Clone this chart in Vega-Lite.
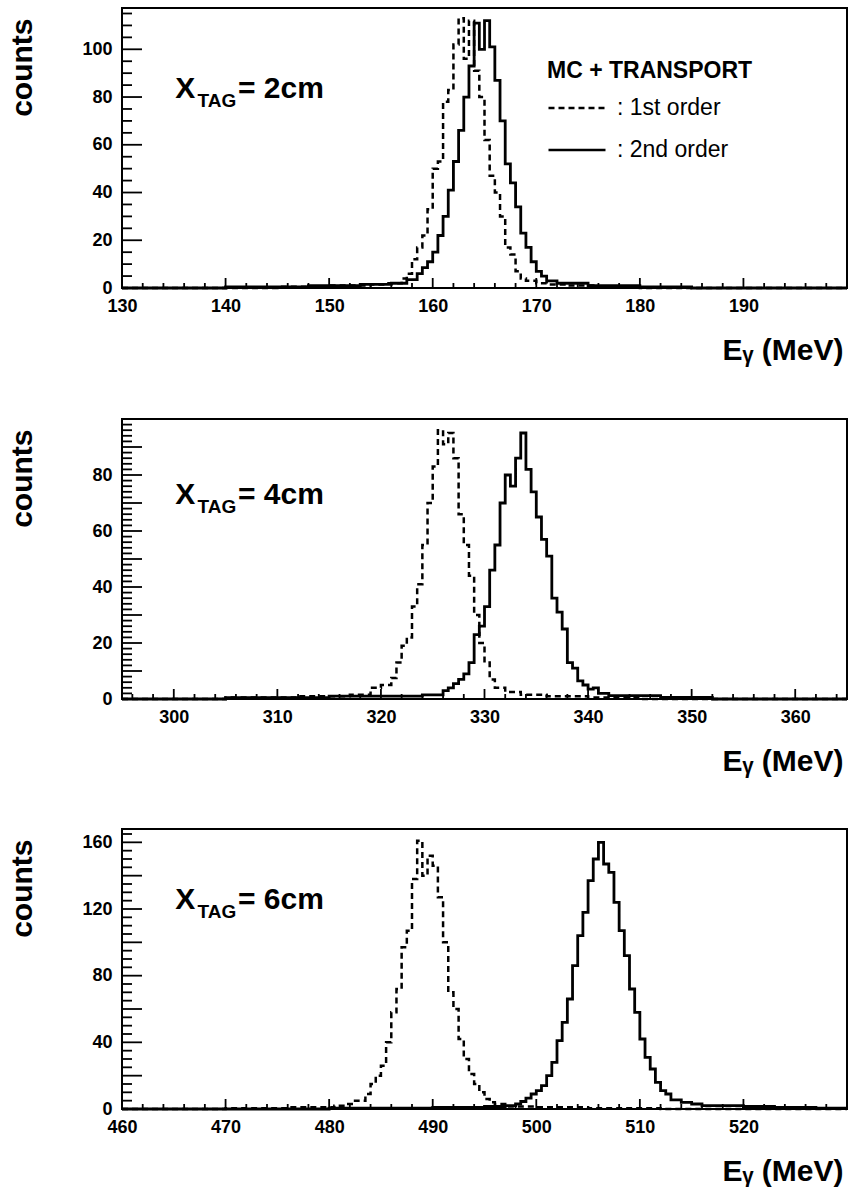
{
  "$schema": "https://vega.github.io/schema/vega-lite/v6.json",
  "background": "white",
  "padding": {"left": 5, "top": 7, "right": 3, "bottom": 0},
  "spacing": 51,
  "config": {
    "font": "Liberation Sans",
    "view": {"stroke": "black", "strokeWidth": 2},
    "axis": {
      "domain": false, "ticks": false, "tickSize": 0, "labelColor": "black", "titleColor": "black",
      "labelFont": "Liberation Sans", "labelFontWeight": "bold", "labelFontSize": 18,
      "titleFont": "Liberation Sans", "titleFontWeight": "bold", "titleFontSize": 30,
      "grid": false, "labelFlush": false, "labelOverlap": false
    },
    "tick": {"color": "black", "thickness": 1.8, "opacity": 1}
  },
  "datasets": {
    "p1": [
      {"E":130,"n":0,"o":"1st order"},{"E":145,"n":0.5,"o":"1st order"},{"E":150,"n":1,"o":"1st order"},{"E":154,"n":1.5,"o":"1st order"},{"E":155.5,"n":2,"o":"1st order"},{"E":157,"n":4,"o":"1st order"},{"E":157.5,"n":6,"o":"1st order"},{"E":158,"n":12,"o":"1st order"},{"E":158.5,"n":17,"o":"1st order"},{"E":159,"n":22,"o":"1st order"},{"E":159.5,"n":33,"o":"1st order"},{"E":160,"n":50,"o":"1st order"},{"E":160.5,"n":53,"o":"1st order"},{"E":161,"n":78,"o":"1st order"},{"E":161.5,"n":83,"o":"1st order"},{"E":162,"n":102,"o":"1st order"},{"E":162.5,"n":113,"o":"1st order"},{"E":163,"n":96,"o":"1st order"},{"E":163.5,"n":112,"o":"1st order"},{"E":164,"n":91,"o":"1st order"},{"E":164.5,"n":80,"o":"1st order"},{"E":165,"n":62,"o":"1st order"},{"E":165.5,"n":47,"o":"1st order"},{"E":166,"n":40,"o":"1st order"},{"E":166.5,"n":30,"o":"1st order"},{"E":167,"n":17,"o":"1st order"},{"E":167.5,"n":14,"o":"1st order"},{"E":168,"n":7,"o":"1st order"},{"E":168.5,"n":4,"o":"1st order"},{"E":169,"n":3,"o":"1st order"},{"E":170,"n":2,"o":"1st order"},{"E":171,"n":1.5,"o":"1st order"},{"E":173,"n":1,"o":"1st order"},{"E":176,"n":0.5,"o":"1st order"},{"E":180,"n":0,"o":"1st order"},{"E":200,"n":0,"o":"1st order"},
      {"E":130,"n":0,"o":"2nd order"},{"E":140,"n":0.5,"o":"2nd order"},{"E":148,"n":1,"o":"2nd order"},{"E":153,"n":1.5,"o":"2nd order"},{"E":156,"n":2,"o":"2nd order"},{"E":157.5,"n":3.5,"o":"2nd order"},{"E":158.5,"n":6,"o":"2nd order"},{"E":159,"n":8.5,"o":"2nd order"},{"E":159.5,"n":11,"o":"2nd order"},{"E":160,"n":15,"o":"2nd order"},{"E":160.5,"n":22,"o":"2nd order"},{"E":161,"n":30,"o":"2nd order"},{"E":161.5,"n":41,"o":"2nd order"},{"E":162,"n":53,"o":"2nd order"},{"E":162.5,"n":66,"o":"2nd order"},{"E":163,"n":80,"o":"2nd order"},{"E":163.5,"n":93,"o":"2nd order"},{"E":164,"n":111,"o":"2nd order"},{"E":164.5,"n":100,"o":"2nd order"},{"E":165,"n":112,"o":"2nd order"},{"E":165.5,"n":101,"o":"2nd order"},{"E":166,"n":87,"o":"2nd order"},{"E":166.5,"n":70,"o":"2nd order"},{"E":167,"n":52,"o":"2nd order"},{"E":167.5,"n":44,"o":"2nd order"},{"E":168,"n":34,"o":"2nd order"},{"E":168.5,"n":23,"o":"2nd order"},{"E":169,"n":17,"o":"2nd order"},{"E":169.5,"n":11,"o":"2nd order"},{"E":170,"n":7,"o":"2nd order"},{"E":170.5,"n":5,"o":"2nd order"},{"E":171,"n":3,"o":"2nd order"},{"E":172,"n":2,"o":"2nd order"},{"E":175,"n":1,"o":"2nd order"},{"E":180,"n":0.5,"o":"2nd order"},{"E":185,"n":0,"o":"2nd order"},{"E":200,"n":0,"o":"2nd order"}
    ],
    "p2": [
      {"E":295,"n":0,"o":"1st order"},{"E":305,"n":0.5,"o":"1st order"},{"E":312,"n":1,"o":"1st order"},{"E":317,"n":1.5,"o":"1st order"},{"E":319,"n":4,"o":"1st order"},{"E":320,"n":5,"o":"1st order"},{"E":321,"n":7.5,"o":"1st order"},{"E":321.5,"n":13,"o":"1st order"},{"E":322,"n":19,"o":"1st order"},{"E":322.5,"n":22,"o":"1st order"},{"E":323,"n":33,"o":"1st order"},{"E":323.5,"n":41,"o":"1st order"},{"E":324,"n":55,"o":"1st order"},{"E":324.5,"n":70,"o":"1st order"},{"E":325,"n":83,"o":"1st order"},{"E":325.5,"n":96,"o":"1st order"},{"E":326,"n":91,"o":"1st order"},{"E":326.5,"n":95,"o":"1st order"},{"E":327,"n":86,"o":"1st order"},{"E":327.5,"n":66,"o":"1st order"},{"E":328,"n":55,"o":"1st order"},{"E":328.5,"n":44,"o":"1st order"},{"E":329,"n":30,"o":"1st order"},{"E":329.5,"n":20,"o":"1st order"},{"E":330,"n":13,"o":"1st order"},{"E":330.5,"n":7,"o":"1st order"},{"E":331,"n":4,"o":"1st order"},{"E":332,"n":2.5,"o":"1st order"},{"E":333.5,"n":1.5,"o":"1st order"},{"E":336,"n":1,"o":"1st order"},{"E":340,"n":0.5,"o":"1st order"},{"E":345,"n":0,"o":"1st order"},{"E":365,"n":0,"o":"1st order"},
      {"E":295,"n":0,"o":"2nd order"},{"E":305,"n":0.5,"o":"2nd order"},{"E":315,"n":1,"o":"2nd order"},{"E":324,"n":1.5,"o":"2nd order"},{"E":326,"n":3,"o":"2nd order"},{"E":326.5,"n":4,"o":"2nd order"},{"E":327,"n":5.5,"o":"2nd order"},{"E":327.5,"n":7,"o":"2nd order"},{"E":328,"n":9,"o":"2nd order"},{"E":328.5,"n":13,"o":"2nd order"},{"E":329,"n":23,"o":"2nd order"},{"E":329.5,"n":26,"o":"2nd order"},{"E":330,"n":33,"o":"2nd order"},{"E":330.5,"n":46,"o":"2nd order"},{"E":331,"n":55,"o":"2nd order"},{"E":331.5,"n":70,"o":"2nd order"},{"E":332,"n":80,"o":"2nd order"},{"E":332.5,"n":76,"o":"2nd order"},{"E":333,"n":86,"o":"2nd order"},{"E":333.5,"n":95,"o":"2nd order"},{"E":334,"n":82,"o":"2nd order"},{"E":334.5,"n":74,"o":"2nd order"},{"E":335,"n":65,"o":"2nd order"},{"E":335.5,"n":57,"o":"2nd order"},{"E":336,"n":51,"o":"2nd order"},{"E":336.5,"n":36,"o":"2nd order"},{"E":337,"n":31,"o":"2nd order"},{"E":337.5,"n":25,"o":"2nd order"},{"E":338,"n":13,"o":"2nd order"},{"E":338.5,"n":11,"o":"2nd order"},{"E":339,"n":6.5,"o":"2nd order"},{"E":339.5,"n":5,"o":"2nd order"},{"E":340,"n":3.5,"o":"2nd order"},{"E":340.5,"n":4,"o":"2nd order"},{"E":341,"n":2,"o":"2nd order"},{"E":342,"n":1.2,"o":"2nd order"},{"E":347,"n":0.6,"o":"2nd order"},{"E":352,"n":0,"o":"2nd order"},{"E":365,"n":0,"o":"2nd order"}
    ],
    "p3": [
      {"E":460,"n":0,"o":"1st order"},{"E":470,"n":0.5,"o":"1st order"},{"E":476,"n":1,"o":"1st order"},{"E":480.5,"n":2,"o":"1st order"},{"E":481.5,"n":3,"o":"1st order"},{"E":482.5,"n":5,"o":"1st order"},{"E":483.5,"n":9,"o":"1st order"},{"E":484,"n":15,"o":"1st order"},{"E":484.5,"n":20,"o":"1st order"},{"E":485,"n":26,"o":"1st order"},{"E":485.5,"n":40,"o":"1st order"},{"E":486,"n":58,"o":"1st order"},{"E":486.5,"n":72,"o":"1st order"},{"E":487,"n":97,"o":"1st order"},{"E":487.5,"n":107,"o":"1st order"},{"E":488,"n":138,"o":"1st order"},{"E":488.5,"n":161,"o":"1st order"},{"E":489,"n":140,"o":"1st order"},{"E":489.5,"n":152,"o":"1st order"},{"E":490,"n":146,"o":"1st order"},{"E":490.5,"n":127,"o":"1st order"},{"E":491,"n":100,"o":"1st order"},{"E":491.5,"n":70,"o":"1st order"},{"E":492,"n":60,"o":"1st order"},{"E":492.5,"n":42,"o":"1st order"},{"E":493,"n":30,"o":"1st order"},{"E":493.5,"n":21,"o":"1st order"},{"E":494,"n":15,"o":"1st order"},{"E":494.5,"n":10,"o":"1st order"},{"E":495,"n":6,"o":"1st order"},{"E":495.5,"n":4,"o":"1st order"},{"E":496,"n":3,"o":"1st order"},{"E":497,"n":1.5,"o":"1st order"},{"E":500,"n":1,"o":"1st order"},{"E":505,"n":0.5,"o":"1st order"},{"E":512,"n":0,"o":"1st order"},{"E":530,"n":0,"o":"1st order"},
      {"E":460,"n":0,"o":"2nd order"},{"E":480,"n":0.5,"o":"2nd order"},{"E":490,"n":1,"o":"2nd order"},{"E":495,"n":1.5,"o":"2nd order"},{"E":497,"n":2,"o":"2nd order"},{"E":498,"n":3,"o":"2nd order"},{"E":498.5,"n":4.5,"o":"2nd order"},{"E":499,"n":6.5,"o":"2nd order"},{"E":499.5,"n":9,"o":"2nd order"},{"E":500,"n":11,"o":"2nd order"},{"E":500.5,"n":14,"o":"2nd order"},{"E":501,"n":20,"o":"2nd order"},{"E":501.5,"n":28,"o":"2nd order"},{"E":502,"n":41,"o":"2nd order"},{"E":502.5,"n":52,"o":"2nd order"},{"E":503,"n":66,"o":"2nd order"},{"E":503.5,"n":86,"o":"2nd order"},{"E":504,"n":104,"o":"2nd order"},{"E":504.5,"n":118,"o":"2nd order"},{"E":505,"n":137,"o":"2nd order"},{"E":505.5,"n":150,"o":"2nd order"},{"E":506,"n":160,"o":"2nd order"},{"E":506.5,"n":147,"o":"2nd order"},{"E":507,"n":142,"o":"2nd order"},{"E":507.5,"n":124,"o":"2nd order"},{"E":508,"n":107,"o":"2nd order"},{"E":508.5,"n":92,"o":"2nd order"},{"E":509,"n":72,"o":"2nd order"},{"E":509.5,"n":58,"o":"2nd order"},{"E":510,"n":42,"o":"2nd order"},{"E":510.5,"n":31,"o":"2nd order"},{"E":511,"n":24,"o":"2nd order"},{"E":511.5,"n":16,"o":"2nd order"},{"E":512,"n":11,"o":"2nd order"},{"E":512.5,"n":9,"o":"2nd order"},{"E":513,"n":5.5,"o":"2nd order"},{"E":514,"n":4,"o":"2nd order"},{"E":515,"n":3,"o":"2nd order"},{"E":516,"n":2,"o":"2nd order"},{"E":520,"n":1.5,"o":"2nd order"},{"E":523,"n":1,"o":"2nd order"},{"E":527,"n":0.5,"o":"2nd order"},{"E":530,"n":0.5,"o":"2nd order"}
    ]
  },
  "resolve": {"scale": {"strokeDash": "independent"}, "legend": {"strokeDash": "independent"}},
  "vconcat": [
    {
      "width": 725, "height": 280,
      "layer": [
        {
          "data": {"name": "p1"},
          "transform": [{"filter": "datum.o == '1st order'"}],
          "mark": {"type": "line", "interpolate": "step-after", "strokeWidth": 2.5, "color": "black"},
          "encoding": {
            "x": {"field": "E", "type": "quantitative", "scale": {"domain": [130, 200], "nice": false, "zero": false},
              "axis": {"orient": "bottom", "values": [130,140,150,160,170,180,190], "labelPadding": 9, "labelOverlap": false, "labelFlush": false,
                "title": "Eᵧ (MeV)", "titleX": 721, "titleY": 71, "titleAlign": "right", "titleBaseline": "alphabetic"}},
            "y": {"field": "n", "type": "quantitative", "scale": {"domain": [0, 117.3], "nice": false},
              "axis": {"orient": "left", "values": [0,20,40,60,80,100], "labelPadding": 10, "labelOverlap": false, "labelFlush": false,
                "title": "counts", "titleX": -91, "titleY": 10, "titleAngle": -90, "titleAlign": "right", "titleBaseline": "alphabetic"}},
            "strokeDash": {"field": "o", "type": "nominal", "scale": {"domain": ["1st order", "2nd order"], "range": [[6, 4], [1, 0]]},
              "legend": {"title": "MC + TRANSPORT", "orient": "none", "legendX": 425, "legendY": 52, "titleLimit": 500, "labelLimit": 400,
                "titleFont": "Liberation Sans", "titleFontSize": 23, "titleFontWeight": "bold", "titleColor": "black", "titlePadding": -5,
                "labelFont": "Liberation Sans", "labelFontSize": 23, "labelFontWeight": "normal", "labelColor": "black",
                "labelExpr": "': ' + datum.label", "symbolType": "stroke", "symbolSize": 3249, "symbolStrokeWidth": 2.5,
                "symbolStrokeColor": "black", "labelOffset": 10, "rowPadding": -2}}
          }
        },
        {
          "data": {"name": "p1"},
          "transform": [{"filter": "datum.o == '2nd order'"}],
          "mark": {"type": "line", "interpolate": "step-after", "strokeWidth": 2.8, "color": "black"},
          "encoding": {
            "x": {"field": "E", "type": "quantitative"},
            "y": {"field": "n", "type": "quantitative"},
            "strokeDash": {"field": "o", "type": "nominal"}
          }
        },
        {
          "data": {"values": [{"t":130},{"t":140},{"t":150},{"t":160},{"t":170},{"t":180},{"t":190}]},
          "mark": {"type": "tick", "orient": "vertical", "size": 10, "yOffset": -5},
          "encoding": {"x": {"field": "t", "type": "quantitative"}, "y": {"datum": 0, "type": "quantitative"}}
        },
        {
          "data": {"values": [{"t":132},{"t":134},{"t":136},{"t":138},{"t":142},{"t":144},{"t":146},{"t":148},{"t":152},{"t":154},{"t":156},{"t":158},{"t":162},{"t":164},{"t":166},{"t":168},{"t":172},{"t":174},{"t":176},{"t":178},{"t":182},{"t":184},{"t":186},{"t":188},{"t":192},{"t":194},{"t":196},{"t":198}]},
          "mark": {"type": "tick", "orient": "vertical", "size": 5, "yOffset": -2.5},
          "encoding": {"x": {"field": "t", "type": "quantitative"}, "y": {"datum": 0, "type": "quantitative"}}
        },
        {
          "data": {"values": [{"t":0},{"t":20},{"t":40},{"t":60},{"t":80},{"t":100}]},
          "mark": {"type": "tick", "orient": "horizontal", "size": 20, "xOffset": 10},
          "encoding": {"y": {"field": "t", "type": "quantitative"}, "x": {"datum": 130, "type": "quantitative"}}
        },
        {
          "data": {"values": [{"t":5},{"t":10},{"t":15},{"t":25},{"t":30},{"t":35},{"t":45},{"t":50},{"t":55},{"t":65},{"t":70},{"t":75},{"t":85},{"t":90},{"t":95},{"t":105},{"t":110},{"t":115}]},
          "mark": {"type": "tick", "orient": "horizontal", "size": 10, "xOffset": 5},
          "encoding": {"y": {"field": "t", "type": "quantitative"}, "x": {"datum": 130, "type": "quantitative"}}
        },
        {
          "data": {"values": [{}]},
          "mark": {"type": "text", "text": "X", "fontSize": 30, "fontWeight": "bold", "align": "left", "baseline": "alphabetic", "color": "black"},
          "encoding": {"x": {"datum": 135.15, "type": "quantitative"}, "y": {"datum": 79.6, "type": "quantitative"}}
        },
        {
          "data": {"values": [{}]},
          "mark": {"type": "text", "text": "TAG", "fontSize": 19, "fontWeight": "bold", "align": "left", "baseline": "alphabetic", "color": "black"},
          "encoding": {"x": {"datum": 137.3, "type": "quantitative"}, "y": {"datum": 75.8, "type": "quantitative"}}
        },
        {
          "data": {"values": [{}]},
          "mark": {"type": "text", "text": "= 2cm", "fontSize": 30, "fontWeight": "bold", "align": "left", "baseline": "alphabetic", "color": "black"},
          "encoding": {"x": {"datum": 141.2, "type": "quantitative"}, "y": {"datum": 79.6, "type": "quantitative"}}
        }
      ]
    },
    {
      "width": 725, "height": 280,
      "layer": [
        {
          "data": {"name": "p2"},
          "transform": [{"filter": "datum.o == '1st order'"}],
          "mark": {"type": "line", "interpolate": "step-after", "strokeWidth": 2.5, "color": "black", "strokeDash": [6, 4]},
          "encoding": {
            "x": {"field": "E", "type": "quantitative", "scale": {"domain": [295, 365], "nice": false, "zero": false},
              "axis": {"orient": "bottom", "values": [300,310,320,330,340,350,360], "labelPadding": 9, "labelOverlap": false, "labelFlush": false,
                "title": "Eᵧ (MeV)", "titleX": 721, "titleY": 71, "titleAlign": "right", "titleBaseline": "alphabetic"}},
            "y": {"field": "n", "type": "quantitative", "scale": {"domain": [0, 100], "nice": false},
              "axis": {"orient": "left", "values": [0,10,20,30,40,50,60,70,80,90], "labelPadding": 10, "labelOverlap": false, "labelFlush": false,
                "title": "counts", "titleX": -91, "titleY": 10, "titleAngle": -90, "titleAlign": "right", "titleBaseline": "alphabetic"}}
          }
        },
        {
          "data": {"name": "p2"},
          "transform": [{"filter": "datum.o == '2nd order'"}],
          "mark": {"type": "line", "interpolate": "step-after", "strokeWidth": 2.8, "color": "black"},
          "encoding": {
            "x": {"field": "E", "type": "quantitative"},
            "y": {"field": "n", "type": "quantitative"}
          }
        },
        {
          "data": {"values": [{"t":300},{"t":310},{"t":320},{"t":330},{"t":340},{"t":350},{"t":360}]},
          "mark": {"type": "tick", "orient": "vertical", "size": 10, "yOffset": -5},
          "encoding": {"x": {"field": "t", "type": "quantitative"}, "y": {"datum": 0, "type": "quantitative"}}
        },
        {
          "data": {"values": [{"t":296},{"t":298},{"t":302},{"t":304},{"t":306},{"t":308},{"t":312},{"t":314},{"t":316},{"t":318},{"t":322},{"t":324},{"t":326},{"t":328},{"t":332},{"t":334},{"t":336},{"t":338},{"t":342},{"t":344},{"t":346},{"t":348},{"t":352},{"t":354},{"t":356},{"t":358},{"t":362},{"t":364}]},
          "mark": {"type": "tick", "orient": "vertical", "size": 5, "yOffset": -2.5},
          "encoding": {"x": {"field": "t", "type": "quantitative"}, "y": {"datum": 0, "type": "quantitative"}}
        },
        {
          "data": {"values": [{"t":0},{"t":10},{"t":20},{"t":30},{"t":40},{"t":50},{"t":60},{"t":70},{"t":80},{"t":90},{"t":100}]},
          "mark": {"type": "tick", "orient": "horizontal", "size": 20, "xOffset": 10},
          "encoding": {"y": {"field": "t", "type": "quantitative"}, "x": {"datum": 295, "type": "quantitative"}}
        },
        {
          "data": {"values": [{"t":2},{"t":4},{"t":6},{"t":8},{"t":12},{"t":14},{"t":16},{"t":18},{"t":22},{"t":24},{"t":26},{"t":28},{"t":32},{"t":34},{"t":36},{"t":38},{"t":42},{"t":44},{"t":46},{"t":48},{"t":52},{"t":54},{"t":56},{"t":58},{"t":62},{"t":64},{"t":66},{"t":68},{"t":72},{"t":74},{"t":76},{"t":78},{"t":82},{"t":84},{"t":86},{"t":88},{"t":92},{"t":94},{"t":96},{"t":98}]},
          "mark": {"type": "tick", "orient": "horizontal", "size": 10, "xOffset": 5},
          "encoding": {"y": {"field": "t", "type": "quantitative"}, "x": {"datum": 295, "type": "quantitative"}}
        },
        {
          "data": {"values": [{}]},
          "mark": {"type": "text", "text": "X", "fontSize": 30, "fontWeight": "bold", "align": "left", "baseline": "alphabetic", "color": "black"},
          "encoding": {"x": {"datum": 300.15, "type": "quantitative"}, "y": {"datum": 69.5, "type": "quantitative"}}
        },
        {
          "data": {"values": [{}]},
          "mark": {"type": "text", "text": "TAG", "fontSize": 19, "fontWeight": "bold", "align": "left", "baseline": "alphabetic", "color": "black"},
          "encoding": {"x": {"datum": 302.3, "type": "quantitative"}, "y": {"datum": 66.3, "type": "quantitative"}}
        },
        {
          "data": {"values": [{}]},
          "mark": {"type": "text", "text": "= 4cm", "fontSize": 30, "fontWeight": "bold", "align": "left", "baseline": "alphabetic", "color": "black"},
          "encoding": {"x": {"datum": 306.2, "type": "quantitative"}, "y": {"datum": 69.5, "type": "quantitative"}}
        }
      ]
    },
    {
      "width": 725, "height": 280,
      "layer": [
        {
          "data": {"name": "p3"},
          "transform": [{"filter": "datum.o == '1st order'"}],
          "mark": {"type": "line", "interpolate": "step-after", "strokeWidth": 2.5, "color": "black", "strokeDash": [6, 4]},
          "encoding": {
            "x": {"field": "E", "type": "quantitative", "scale": {"domain": [460, 530], "nice": false, "zero": false},
              "axis": {"orient": "bottom", "values": [460,470,480,490,500,510,520], "labelPadding": 9, "labelOverlap": false, "labelFlush": false,
                "title": "Eᵧ (MeV)", "titleX": 721, "titleY": 71, "titleAlign": "right", "titleBaseline": "alphabetic"}},
            "y": {"field": "n", "type": "quantitative", "scale": {"domain": [0, 168], "nice": false},
              "axis": {"orient": "left", "values": [0,20,40,60,80,100,120,140,160], "labelPadding": 10, "labelOverlap": false, "labelFlush": false,
                "title": "counts", "titleX": -91, "titleY": 10, "titleAngle": -90, "titleAlign": "right", "titleBaseline": "alphabetic"}}
          }
        },
        {
          "data": {"name": "p3"},
          "transform": [{"filter": "datum.o == '2nd order'"}],
          "mark": {"type": "line", "interpolate": "step-after", "strokeWidth": 2.8, "color": "black"},
          "encoding": {
            "x": {"field": "E", "type": "quantitative"},
            "y": {"field": "n", "type": "quantitative"}
          }
        },
        {
          "data": {"values": [{"t":460},{"t":470},{"t":480},{"t":490},{"t":500},{"t":510},{"t":520}]},
          "mark": {"type": "tick", "orient": "vertical", "size": 10, "yOffset": -5},
          "encoding": {"x": {"field": "t", "type": "quantitative"}, "y": {"datum": 0, "type": "quantitative"}}
        },
        {
          "data": {"values": [{"t":462},{"t":464},{"t":466},{"t":468},{"t":472},{"t":474},{"t":476},{"t":478},{"t":482},{"t":484},{"t":486},{"t":488},{"t":492},{"t":494},{"t":496},{"t":498},{"t":502},{"t":504},{"t":506},{"t":508},{"t":512},{"t":514},{"t":516},{"t":518},{"t":522},{"t":524},{"t":526},{"t":528}]},
          "mark": {"type": "tick", "orient": "vertical", "size": 5, "yOffset": -2.5},
          "encoding": {"x": {"field": "t", "type": "quantitative"}, "y": {"datum": 0, "type": "quantitative"}}
        },
        {
          "data": {"values": [{"t":0},{"t":20},{"t":40},{"t":60},{"t":80},{"t":100},{"t":120},{"t":140},{"t":160}]},
          "mark": {"type": "tick", "orient": "horizontal", "size": 20, "xOffset": 10},
          "encoding": {"y": {"field": "t", "type": "quantitative"}, "x": {"datum": 460, "type": "quantitative"}}
        },
        {
          "data": {"values": [{"t":5},{"t":10},{"t":15},{"t":25},{"t":30},{"t":35},{"t":45},{"t":50},{"t":55},{"t":65},{"t":70},{"t":75},{"t":85},{"t":90},{"t":95},{"t":105},{"t":110},{"t":115},{"t":125},{"t":130},{"t":135},{"t":145},{"t":150},{"t":155},{"t":165}]},
          "mark": {"type": "tick", "orient": "horizontal", "size": 10, "xOffset": 5},
          "encoding": {"y": {"field": "t", "type": "quantitative"}, "x": {"datum": 460, "type": "quantitative"}}
        },
        {
          "data": {"values": [{}]},
          "mark": {"type": "text", "text": "X", "fontSize": 30, "fontWeight": "bold", "align": "left", "baseline": "alphabetic", "color": "black"},
          "encoding": {"x": {"datum": 465.15, "type": "quantitative"}, "y": {"datum": 120, "type": "quantitative"}}
        },
        {
          "data": {"values": [{}]},
          "mark": {"type": "text", "text": "TAG", "fontSize": 19, "fontWeight": "bold", "align": "left", "baseline": "alphabetic", "color": "black"},
          "encoding": {"x": {"datum": 467.3, "type": "quantitative"}, "y": {"datum": 114.6, "type": "quantitative"}}
        },
        {
          "data": {"values": [{}]},
          "mark": {"type": "text", "text": "= 6cm", "fontSize": 30, "fontWeight": "bold", "align": "left", "baseline": "alphabetic", "color": "black"},
          "encoding": {"x": {"datum": 471.2, "type": "quantitative"}, "y": {"datum": 120, "type": "quantitative"}}
        }
      ]
    }
  ]
}
